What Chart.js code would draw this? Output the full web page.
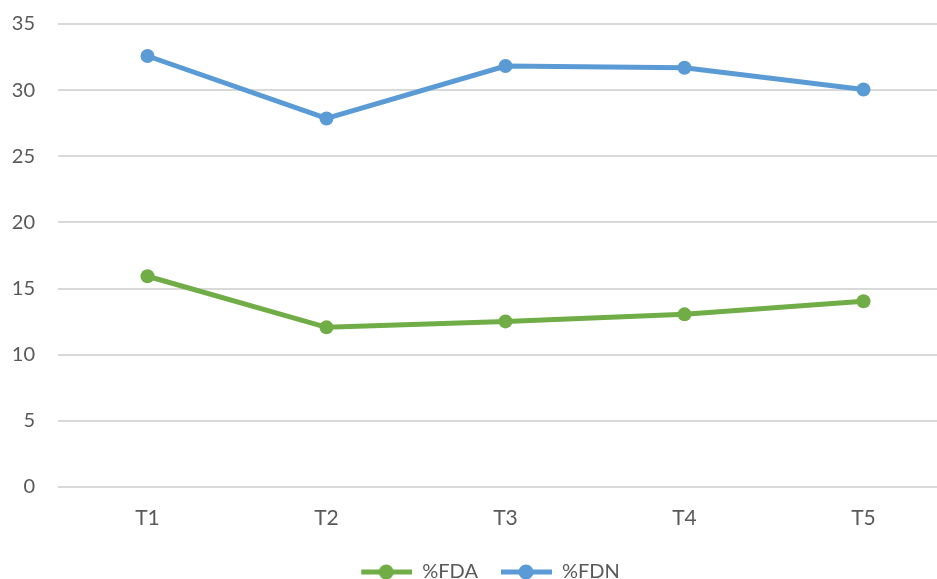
<!DOCTYPE html>
<html>
<head>
<meta charset="utf-8">
<script src="https://cdn.jsdelivr.net/npm/chart.js@4.4.0/dist/chart.umd.min.js"></script>
<style>
html,body{margin:0;padding:0;background:#fff;overflow:hidden;}
#wrap{width:960px;height:579px;position:relative;}
</style>
</head>
<body>
<div id="wrap"><canvas id="c" width="960" height="579"></canvas></div>
<script>
const categories = ["T1","T2","T3","T4","T5"];
const fdaValues = [15.93, 12.07, 12.52, 13.05, 14.04];
const fdnValues = [32.58, 27.86, 31.82, 31.69, 30.05];
const yTicks = [0,5,10,15,20,25,30,35];

const GREEN = "#70AD47";
const BLUE = "#5B9BD5";

function legendIcon(color){
  const cv = document.createElement("canvas");
  cv.width = 52; cv.height = 18;
  const g = cv.getContext("2d");
  g.strokeStyle = color; g.lineWidth = 5; g.lineCap = "butt";
  g.beginPath(); g.moveTo(1,9); g.lineTo(52,9); g.stroke();
  g.fillStyle = color; g.beginPath(); g.arc(26,9,7.5,0,Math.PI*2); g.fill();
  return cv;
}

const legendShift = {
  id: "legendShift",
  afterLayout(chart){
    if (chart.legend){ chart.legend.left += 10; chart.legend.right += 10; }
  }
};

const ctx = document.getElementById("c").getContext("2d");
new Chart(ctx, {
  type: "line",
  data: {
    labels: categories,
    datasets: [
      {label:"%FDA", data: fdaValues, borderColor: GREEN, backgroundColor: GREEN,
       borderWidth: 5, pointRadius: 7, pointHoverRadius: 7, pointBackgroundColor: GREEN, pointBorderWidth: 0, tension: 0, legendIcon: legendIcon(GREEN)},
      {label:"%FDN", data: fdnValues, borderColor: BLUE, backgroundColor: BLUE,
       borderWidth: 5, pointRadius: 7, pointHoverRadius: 7, pointBackgroundColor: BLUE, pointBorderWidth: 0, tension: 0, legendIcon: legendIcon(BLUE)}
    ]
  },
  plugins: [legendShift],
  options: {
    responsive: false,
    animation: false,
    layout: {padding: {top: 24, left: 0, right: 0, bottom: -13}},
    plugins: {
      tooltip: {enabled: false},
      legend: {
        position: "bottom",
        labels: {
          usePointStyle: true,
          pointStyleWidth: 52,
          color: "#595959",
          font: {family: "Lato", size: 20},
          padding: 22,
          generateLabels(chart){
            return chart.data.datasets.map((ds,i)=>({
              text: ds.label, pointStyle: ds.legendIcon, fillStyle: ds.borderColor,
              strokeStyle: ds.borderColor, lineWidth: 0, hidden: false, datasetIndex: i, fontColor: "#595959"
            }));
          }
        }
      }
    },
    scales: {
      x: {
        offset: true,
        grid: {display: false},
        border: {display: false},
        ticks: {color: "#595959", font: {family: "Lato", size: 21}, padding: 11},
        afterFit(s){ s.height = 53; }
      },
      y: {
        min: 0, max: 35,
        afterBuildTicks(s){ s.ticks = yTicks.map(v=>({value:v})); },
        grid: {color: "#D9D9D9", lineWidth: 2, drawTicks: false},
        border: {display: false},
        ticks: {color: "#595959", font: {family: "Lato", size: 20}, padding: 23},
        afterFit(s){ s.width = 58; s.paddingTop = 0; s.paddingBottom = 0; }
      }
    }
  }
});
</script>
</body>
</html>
